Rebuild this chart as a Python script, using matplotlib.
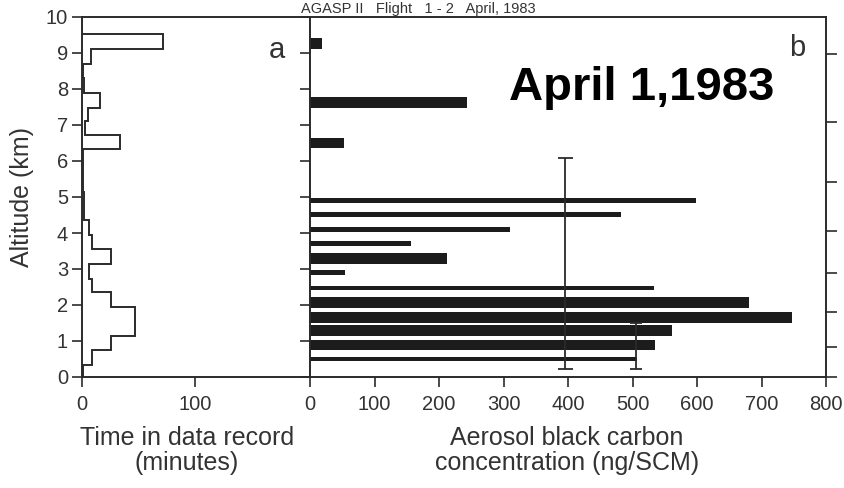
import matplotlib
matplotlib.use("Agg")
import matplotlib.pyplot as plt

plt.rcParams['font.family'] = ['Liberation Sans', 'DejaVu Sans']

# ---- data -------------------------------------------------------------
# (a) time spent in each altitude layer (minutes)
alt_edges_a = [0.0, 0.33, 0.74, 1.14, 1.54, 1.94, 2.35, 2.73, 3.15, 3.55, 3.94,
               4.35, 4.75, 5.15, 5.55, 5.95, 6.34, 6.72, 7.1, 7.47, 7.88, 8.3,
               8.7, 9.1, 9.54, 10.0]
time_min = [1, 9, 26, 47, 47, 26, 9, 6, 26, 9, 6, 2, 1.5, 1, 0.5, 1, 34, 3, 5,
            16, 2, 1, 8, 72, 0]

# (b) aerosol black carbon per altitude layer (ng/SCM)
bc_alt = [9.27, 7.63, 6.50, 4.91, 4.51, 4.09, 3.71, 3.29, 2.89, 2.47, 2.08,
          1.66, 1.29, 0.89, 0.50]
bc_val = [19, 243, 53, 598, 482, 310, 156, 212, 54, 533, 681, 748, 562, 535, 507]
bc_thick = [0.3, 0.3, 0.3, 0.14, 0.13, 0.13, 0.14, 0.3, 0.14, 0.13, 0.3, 0.3,
            0.3, 0.3, 0.12]

# vertical range bars
err_x = [395, 506]
err_lo = [0.23, 0.23]
err_hi = [6.07, 1.50]

# pressure-level marks on the right axis (altitude, km)
press_alt = [8.97, 7.08, 5.42, 4.06, 2.89, 1.81, 0.83, 0.0]

alt_ticks = list(range(0, 11))
a_xticks = [0, 100]
b_xticks = [0, 100, 200, 300, 400, 500, 600, 700, 800]

# ---- figure -----------------------------------------------------------
W, H = 844, 488
fig = plt.figure(figsize=(W / 100, H / 100), dpi=100)
fig.patch.set_facecolor('white')

LINE = '#2b2b2b'
TXT = '#333333'

left, right = 82 / W, 826 / W
bottom, top = 1 - 377 / H, 1 - 17 / H
split = 310 / W
ax_a = fig.add_axes([left, bottom, split - left, top - bottom])
ax_b = fig.add_axes([split, bottom, right - split, top - bottom])

for ax in (ax_a, ax_b):
    ax.set_ylim(0, 10)
    for s in ax.spines.values():
        s.set_color(LINE)
        s.set_linewidth(1.4)
    ax.tick_params(colors=LINE, width=1.2, length=7, direction='out',
                   labelcolor=TXT, labelsize=14.5)

# panel a: step outline of time in record
ax_a.stairs(time_min, alt_edges_a, orientation='horizontal', baseline=0,
            color=LINE, linewidth=1.4)
ax_a.set_xlim(0, 202)
ax_a.set_xticks(a_xticks)
ax_a.set_yticks(alt_ticks)
ax_a.tick_params(axis='x', pad=6)
ax_a.tick_params(axis='y', pad=3)
ax_a.text(173, 9.09, 'a', fontsize=21, color=TXT, ha='center', va='center')

# panel b: black carbon bars
ax_b.barh(bc_alt, bc_val, height=bc_thick, color='#1c1c1c', edgecolor='none')
for x, lo, hi, cap in zip(err_x, err_lo, err_hi, [5.4, 4.0]):
    ax_b.errorbar([x], [(lo + hi) / 2], yerr=[[(hi - lo) / 2], [(hi - lo) / 2]],
                  fmt='none', ecolor=LINE, elinewidth=1.3, capsize=cap,
                  capthick=1.3)
ax_b.set_xlim(0, 800)
ax_b.set_xticks(b_xticks)
ax_b.tick_params(axis='x', pad=6)
ax_b.set_yticks(alt_ticks)
ax_b.tick_params(axis='y', labelleft=False)
ax_r = ax_b.secondary_yaxis('right')
ax_r.set_yticks(press_alt)
ax_r.tick_params(axis='y', direction='out', length=8, width=1.2, colors=LINE,
                 labelright=False)
ax_r.spines['right'].set_visible(False)

ax_b.text(755, 9.14, 'b', fontsize=21, color=TXT, ha='center', va='center')
ax_b.text(514, 7.69, 'April 1,1983', fontsize=34, fontweight='bold',
          color='black', ha='center', va='baseline')

# axis labels
fig.text(22 / W, 1 - 197 / H, 'Altitude (km)', rotation=90, fontsize=18,
         color=TXT, ha='center', va='center')
fig.text(187 / W, 1 - 426 / H, 'Time in data record\n(minutes)', fontsize=18,
         color=TXT, ha='center', va='top', linespacing=1.05)
fig.text(567 / W, 1 - 426 / H, 'Aerosol black carbon\nconcentration (ng/SCM)',
         fontsize=18, color=TXT, ha='center', va='top', linespacing=1.05)

# header line above the panels
fig.text(418 / W, 1 - 1.5 / H, 'AGASP II   Flight   1 - 2   April, 1983',
         fontsize=10.5, color=TXT, ha='center', va='top')

fig.savefig('out.png', dpi=100, facecolor='white')
